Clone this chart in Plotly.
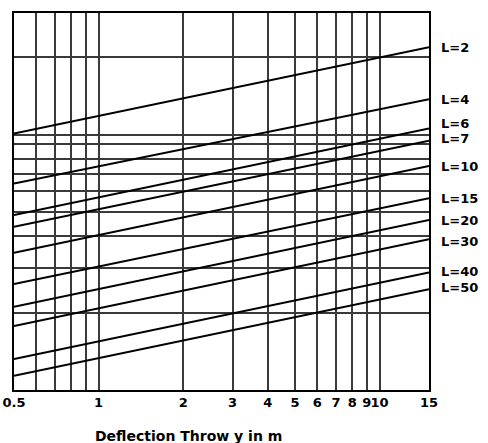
import plotly.graph_objects as go

# Data (arbitrary vertical units, 0..100)
curve_names = ["L=2", "L=4", "L=6", "L=7", "L=10", "L=15", "L=20", "L=30", "L=40", "L=50"]
x_ends = [0.5, 15]
y_start = [68.0, 54.8, 46.4, 43.3, 36.4, 28.1, 22.1, 17.0, 8.2, 3.8]
y_end = [90.9, 77.1, 69.4, 66.1, 59.4, 50.9, 45.1, 40.0, 31.2, 26.7]

x_grid = [0.5, 0.6, 0.7, 0.8, 0.9, 1, 2, 3, 4, 5, 6, 7, 8, 9, 10, 15]
x_ticklabels = ["0.5", "", "", "", "", "1", "2", "3", "4", "5", "6", "7", "8", "9", "10", "15"]
y_grid = [88.2, 67.7, 65.3, 61.3, 57.3, 52.8, 47.3, 40.9, 32.4, 20.5]
label_y = [90.9, 77.1, 70.8, 66.6, 59.4, 50.7, 45.0, 39.5, 31.5, 27.1]

fig = go.Figure()
for name, y0, y1 in zip(curve_names, y_start, y_end):
    fig.add_trace(go.Scatter(x=x_ends, y=[y0, y1], mode="lines",
                             line=dict(color="black", width=2), name=name,
                             showlegend=False, hoverinfo="skip"))

annotations = []
for name, ly in zip(curve_names, label_y):
    annotations.append(dict(x=1, xref="paper", y=ly, yref="y", text="<b>" + name + "</b>",
                            showarrow=False, xanchor="left", yanchor="middle", borderpad=0,
                            xshift=11, font=dict(family="DejaVu Sans", size=13, color="black")))
annotations.append(dict(x=(188 - 14) / (488 - 14 - 59), xref="paper",
                        y=-(436 - 390) / (443 - 13 - 53), yref="paper",
                        text="<b>Deflection Throw y in m</b>", xanchor="center", yanchor="middle",
                        showarrow=False, font=dict(family="DejaVu Sans", size=14, color="black")))

fig.update_layout(
    width=488, height=443,
    margin=dict(l=14, r=59, t=13, b=53, autoexpand=False),
    paper_bgcolor="white", plot_bgcolor="white",
    annotations=annotations,
    xaxis=dict(type="log", range=[-0.30103, 1.176091], automargin=False,
               tickvals=x_grid, ticktext=["<b>" + t + "</b>" if t else "" for t in x_ticklabels],
               tickangle=0,
               showgrid=True, gridcolor="#3a3a3a", gridwidth=1.5,
               showline=True, linecolor="black", linewidth=1.5, mirror=True,
               ticks="", tickfont=dict(family="DejaVu Sans", size=13, color="black"),
               zeroline=False),
    yaxis=dict(range=[0, 100], tickvals=y_grid, showticklabels=False, automargin=False,
               showgrid=True, gridcolor="#3a3a3a", gridwidth=1.5,
               showline=True, linecolor="black", linewidth=1.5, mirror=True,
               ticks="", zeroline=False),
)

fig.write_html("out.html")
